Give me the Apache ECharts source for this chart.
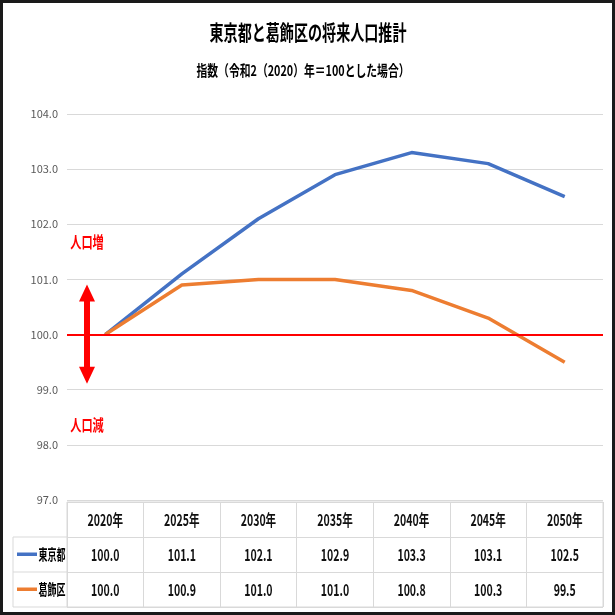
<!DOCTYPE html>
<html>
<head>
<meta charset="utf-8">
<script src="https://cdn.jsdelivr.net/npm/echarts@6/dist/echarts.min.js"></script>
<style>
  html, body { margin: 0; padding: 0; background: #fff; }
  #main { width: 615px; height: 615px; }
</style>
</head>
<body>
<div id="main"></div>
<script>
// 年次と指数（令和2年=100）
const years = ['2020年', '2025年', '2030年', '2035年', '2040年', '2045年', '2050年']
const tokyo = [100.0, 101.1, 102.1, 102.9, 103.3, 103.1, 102.5]
const katsushika = [100.0, 100.9, 101.0, 101.0, 100.8, 100.3, 99.5]
const seriesNames = ['東京都', '葛飾区']
const rowNames = ['', '東京都', '葛飾区']

const BLUE = '#4472C4'
const ORANGE = '#ED7D31'
const FONT = '"Noto Sans CJK JP", "Noto Sans", sans-serif'
const NARROW = '"Liberation Sans Narrow", "Noto Sans CJK JP", sans-serif'
const SQUEEZE = 0.66  // 元画像は横に詰まっているので文字を横方向に縮める

// 表のセル（x=年, y=行）
const cells = []
years.forEach((y, i) => {
  cells.push([i, 0, y])
  cells.push([i, 1, tokyo[i].toFixed(1)])
  cells.push([i, 2, katsushika[i].toFixed(1)])
})

const chart = echarts.init(document.getElementById('main'))

chart.setOption({
  backgroundColor: '#fff',
  animation: false,
  textStyle: { fontFamily: FONT },
  grid: [
    { left: 67, right: 12, top: 114, height: 386 },
    { left: 67, right: 12, top: 502, height: 105, show: true, borderColor: '#d9d9d9', borderWidth: 1 }
  ],
  xAxis: [
    {
      gridIndex: 0,
      type: 'category',
      data: years,
      boundaryGap: true,
      axisLine: { show: false },
      axisTick: { show: false },
      axisLabel: { show: false }
    },
    {
      gridIndex: 1,
      type: 'category',
      data: years,
      boundaryGap: true,
      axisLine: { show: false },
      axisTick: { show: false },
      axisLabel: { show: false },
      splitLine: { show: true, lineStyle: { color: '#d9d9d9' } }
    }
  ],
  yAxis: [
    {
      gridIndex: 0,
      type: 'value',
      min: 97,
      max: 104,
      interval: 1,
      axisLine: { show: false },
      axisTick: { show: false },
      axisLabel: {
        formatter: v => v.toFixed(1),
        color: '#595959',
        fontFamily: NARROW,
        fontSize: 11,
        margin: 9
      },
      splitLine: { lineStyle: { color: '#d9d9d9' } }
    },
    {
      gridIndex: 1,
      type: 'category',
      data: rowNames,
      inverse: true,
      boundaryGap: true,
      axisLine: { show: false },
      axisTick: { show: false },
      axisLabel: { show: false },
      splitLine: { show: true, lineStyle: { color: '#d9d9d9' } }
    }
  ],
  series: [
    {
      name: seriesNames[0],
      type: 'line',
      xAxisIndex: 0,
      yAxisIndex: 0,
      data: tokyo,
      symbol: 'none',
      lineStyle: { color: BLUE, width: 3.5 },
      z: 3
    },
    {
      name: seriesNames[1],
      type: 'line',
      xAxisIndex: 0,
      yAxisIndex: 0,
      data: katsushika,
      symbol: 'none',
      lineStyle: { color: ORANGE, width: 3.5 },
      z: 3,
      markLine: {
        silent: true,
        symbol: 'none',
        label: { show: false },
        lineStyle: { color: '#FF0000', width: 2, type: 'solid' },
        data: [{ yAxis: 100 }]
      }
    },
    {
      type: 'custom',
      xAxisIndex: 1,
      yAxisIndex: 1,
      data: cells.map(c => [c[0], c[1]]),
      silent: true,
      renderItem: (params, api) => {
        const p = api.coord([api.value(0), api.value(1)])
        return {
          type: 'text',
          x: p[0],
          y: p[1],
          scaleX: SQUEEZE,
          style: {
            text: cells[params.dataIndex][2],
            font: 'bold 16px ' + NARROW,
            fill: '#111',
            align: 'center',
            verticalAlign: 'middle'
          }
        }
      }
    }
  ]
})

// 凡例列・矢印・注記・タイトル
const top101 = chart.convertToPixel({ yAxisIndex: 0 }, 101)
const bot99 = chart.convertToPixel({ yAxisIndex: 0 }, 99)
const rowY1 = chart.convertToPixel({ yAxisIndex: 1 }, 1)
const rowY2 = chart.convertToPixel({ yAxisIndex: 1 }, 2)
const ax = 87
const y1 = top101 + 5
const y2 = bot99 - 6
const head = 17

function label(text, x, y, size, color, weight, sx) {
  return {
    type: 'text',
    x: x,
    y: y,
    scaleX: sx,
    style: {
      text: text,
      fill: color,
      font: weight + ' ' + size + 'px ' + FONT,
      align: 'center',
      verticalAlign: 'middle'
    },
    z: 10
  }
}

function legendKey(color, name, y) {
  return [
    { type: 'rect', shape: { x: 17, y: y - 2, width: 20, height: 3.5 }, style: { fill: color }, z: 10 },
    label(name, 52, y, 15, '#000', 'bold', 0.6)
  ]
}

chart.setOption({
  graphic: [
    label('東京都と葛飾区の将来人口推計', 308, 32, 21, '#000', 'bold', 0.67),
    label('指数（令和2（2020）年＝100とした場合）', 303, 70, 15, '#000', 'bold', 0.72),
    {
      type: 'polygon',
      shape: {
        points: [
          [ax, y1], [ax + 8, y1 + head], [ax + 3, y1 + head],
          [ax + 3, y2 - head], [ax + 8, y2 - head], [ax, y2],
          [ax - 8, y2 - head], [ax - 3, y2 - head],
          [ax - 3, y1 + head], [ax - 8, y1 + head]
        ]
      },
      style: { fill: '#FF0000' },
      z: 10
    },
    label('人口増', 87, 242, 16, '#FF0000', 'bold', 0.7),
    label('人口減', 87, 425, 16, '#FF0000', 'bold', 0.7),
    ...legendKey(BLUE, seriesNames[0], rowY1),
    ...legendKey(ORANGE, seriesNames[1], rowY2),
    {
      type: 'polyline',
      shape: { points: [[67, 537], [13, 537], [13, 607], [67, 607]] },
      style: { stroke: '#d9d9d9', lineWidth: 1, fill: null },
      z: 10
    },
    {
      type: 'line',
      shape: { x1: 13, y1: 572, x2: 67, y2: 572 },
      style: { stroke: '#d9d9d9', lineWidth: 1 },
      z: 10
    },
    {
      type: 'rect',
      shape: { x: 0, y: 0, width: 615, height: 615 },
      style: { stroke: '#1a1a1a', lineWidth: 6, fill: null },
      z: 20
    }
  ]
})
</script>
</body>
</html>
